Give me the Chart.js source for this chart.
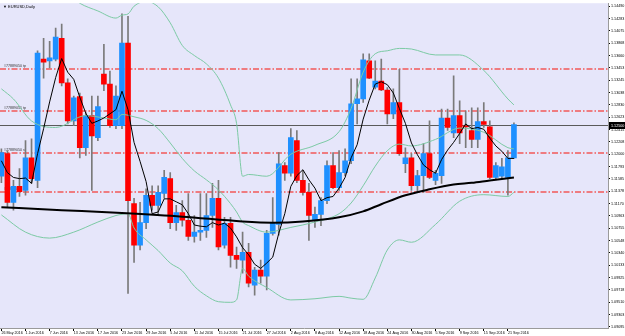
<!DOCTYPE html>
<html lang="en">
<head>
<meta charset="UTF-8">
<title>EURUSD,Daily</title>
<script src="https://cdn.jsdelivr.net/npm/chart.js"></script>
<style>
  html, body { margin: 0; padding: 0; background: #ffffff; }
  #wrap { width: 625px; height: 336px; }
</style>
</head>
<body>
<div id="wrap"><canvas id="chart" width="625" height="336"></canvas></div>
<script>
// daily bars, 26 May 2016 .. 22 Sep 2016
const opens = [1.1163,1.1201,1.1119,1.1146,1.1139,1.1194,1.1156,1.1360,1.1357,1.1360,
  1.1395,1.1320,1.1256,1.1297,1.1211,1.1265,1.1228,1.1335,1.1318,1.1248,
  1.1248,1.1387,1.1117,1.1047,1.1085,1.1131,1.1114,1.1134,1.1159,1.1085,
  1.1102,1.1089,1.1062,1.1069,1.1072,1.1097,1.1126,1.1047,1.1084,1.1030,
  1.1022,1.1035,1.0980,1.1005,1.0995,1.1067,1.1082,1.1181,1.1168,1.1223,
  1.1156,1.1136,1.1090,1.1099,1.1122,1.1181,1.1144,1.1169,1.1189,1.1285,
  1.1293,1.1357,1.1313,1.1323,1.1308,1.1268,1.1287,1.1184,1.1194,1.1147,
  1.1164,1.1201,1.1156,1.1164,1.1261,1.1236,1.1265,1.1248,1.1240,1.1225,
  1.1255,1.1246,1.1161,1.1163,1.1161,1.1194];
const highs = [1.1209,1.1206,1.1156,1.1176,1.1223,1.1226,1.1374,1.1395,1.1390,1.1412,
  1.1419,1.1327,1.1298,1.1303,1.1270,1.1298,1.1298,1.1385,1.1340,1.1315,
  1.1436,1.1432,1.1126,1.1119,1.1142,1.1147,1.1147,1.1173,1.1169,1.1114,
  1.1122,1.1134,1.1097,1.1134,1.1134,1.1151,1.1156,1.1094,1.1094,1.1044,
  1.1069,1.1050,1.1010,1.1022,1.1072,1.1127,1.1203,1.1186,1.1243,1.1240,
  1.1173,1.1151,1.1111,1.1127,1.1189,1.1203,1.1206,1.1209,1.1327,1.1327,
  1.1369,1.1369,1.1357,1.1360,1.1312,1.1310,1.1343,1.1211,1.1201,1.1173,
  1.1218,1.1256,1.1173,1.1276,1.1276,1.1332,1.1290,1.1273,1.1278,1.1278,
  1.1287,1.1256,1.1186,1.1193,1.1206,1.1253];
const lows = [1.1152,1.1111,1.1106,1.1129,1.1131,1.1151,1.1144,1.1328,1.1345,1.1357,
  1.1315,1.1251,1.1248,1.1194,1.1198,1.1139,1.1223,1.1307,1.1245,1.1243,
  1.1243,1.0966,1.1018,1.1039,1.1075,1.1106,1.1097,1.1126,1.1075,1.1072,
  1.1079,1.1055,1.1052,1.1055,1.1060,1.1077,1.1039,1.1042,1.1010,1.1008,
  1.1000,1.0977,1.0963,1.0983,1.0972,1.1064,1.1064,1.1156,1.1163,1.1152,
  1.1131,1.1055,1.1077,1.1080,1.1117,1.1142,1.1139,1.1164,1.1184,1.1251,
  1.1287,1.1327,1.1310,1.1307,1.1251,1.1260,1.1198,1.1169,1.1139,1.1136,
  1.1136,1.1159,1.1149,1.1151,1.1240,1.1228,1.1218,1.1211,1.1211,1.1211,
  1.1245,1.1159,1.1159,1.1159,1.1131,1.1193];
const closes = [1.1203,1.1119,1.1146,1.1137,1.1194,1.1159,1.1370,1.1355,1.1362,1.1397,
  1.1320,1.1256,1.1295,1.1211,1.1265,1.1231,1.1280,1.1318,1.1248,1.1298,
  1.1387,1.1122,1.1047,1.1085,1.1131,1.1114,1.1136,1.1161,1.1085,1.1102,
  1.1089,1.1062,1.1069,1.1072,1.1097,1.1126,1.1044,1.1084,1.1030,1.1023,
  1.1035,1.0983,1.1005,1.0995,1.1067,1.1085,1.1184,1.1168,1.1228,1.1156,
  1.1136,1.1097,1.1099,1.1122,1.1181,1.1144,1.1169,1.1189,1.1285,1.1293,
  1.1359,1.1328,1.1323,1.1308,1.1268,1.1287,1.1201,1.1194,1.1147,1.1164,
  1.1201,1.1161,1.1168,1.1261,1.1245,1.1265,1.1236,1.1246,1.1225,1.1255,
  1.1250,1.1161,1.1181,1.1179,1.1194,1.1250];

// fast moving average (thin black)
const maFast = [1.1189,1.1169,1.1161,1.1159,1.1160,1.1151,1.1201,1.1243,1.1288,1.1329,
  1.1361,1.1338,1.1326,1.1296,1.1269,1.1252,1.1256,1.1261,1.1268,1.1275,
  1.1306,1.1275,1.1220,1.1188,1.1154,1.1100,1.1103,1.1125,1.1125,1.1120,
  1.1115,1.1100,1.1081,1.1079,1.1078,1.1085,1.1081,1.1084,1.1076,1.1061,
  1.1043,1.1031,1.1015,1.1008,1.1017,1.1027,1.1067,1.1100,1.1146,1.1164,
  1.1174,1.1157,1.1143,1.1122,1.1127,1.1129,1.1143,1.1161,1.1194,1.1216,
  1.1259,1.1291,1.1318,1.1322,1.1317,1.1303,1.1277,1.1252,1.1219,1.1199,
  1.1182,1.1174,1.1168,1.1191,1.1207,1.1220,1.1235,1.1251,1.1243,1.1245,
  1.1242,1.1227,1.1214,1.1205,1.1193,1.1193];

// slow moving average (thick black), read at a few bars
const maSlowIdx = [0, 10, 20, 30, 40, 45, 50, 56, 60, 63, 67, 71, 75, 78, 81, 85];
const maSlowVal = [1.1111,1.1106,1.1101,1.1095,1.1087,1.1085,1.1087,1.1094,1.1104,1.1116,1.1131,1.1141,1.1149,1.1152,1.1156,1.1161];

// bollinger bands (green), read at a few bars
const bbUpIdx = [0, 6, 10, 12, 13, 16, 19, 20, 21, 22, 24, 26, 28, 30, 32, 34, 36, 38, 39, 40, 41, 44, 48, 52, 56, 58, 60, 62, 64, 66, 68, 72, 76, 80, 84, 85];
const bbUpVal = [1.1483,1.1499,1.1474,1.1462,1.1454,1.1441,1.1429,1.1434,1.1436,1.1449,1.1457,1.1448,1.1421,1.1383,1.1366,1.1352,1.1328,1.1283,1.1252,1.1163,1.1166,1.1163,1.1200,1.1215,1.1238,1.1277,1.1338,1.1369,1.1374,1.1378,1.1377,1.1367,1.1367,1.1341,1.1293,1.1283];
const bbMidIdx = [0, 2, 5, 9, 14, 17, 19, 20, 22, 24, 26, 28, 30, 32, 34, 36, 38, 39, 40, 41, 44, 48, 52, 56, 58, 60, 62, 64, 66, 68, 72, 76, 80, 84, 85];
const bbMidVal = [1.1310,1.1293,1.1256,1.1245,1.1265,1.1261,1.1258,1.1267,1.1263,1.1257,1.1243,1.1219,1.1193,1.1172,1.1157,1.1140,1.1117,1.1103,1.1086,1.1080,1.1069,1.1077,1.1086,1.1100,1.1118,1.1147,1.1180,1.1206,1.1217,1.1214,1.1225,1.1244,1.1237,1.1211,1.1209];
const bbLowIdx = [0, 4, 8, 12, 16, 19, 20, 21, 22, 24, 26, 28, 30, 32, 34, 36, 38, 39, 40, 41, 44, 48, 52, 56, 58, 60, 62, 64, 66, 68, 72, 76, 80, 84, 85];
const bbLowVal = [1.1098,1.1069,1.1059,1.1069,1.1086,1.1097,1.1099,1.1100,1.1076,1.1056,1.1038,1.1017,1.1004,1.0978,1.0962,1.0952,1.0951,1.0955,1.1008,1.0995,1.0976,1.0955,1.0957,1.0961,1.0958,1.0956,1.0992,1.1039,1.1056,1.1052,1.1082,1.1121,1.1132,1.1129,1.1136];

// order levels (red dash-dot)
const levels = [1.13435, 1.12731, 1.12027, 1.11357];
const levelNames = ['#77889050 tp', '#77889051 tp', '#77889050 sl', '#77889051 sl'];

// axis labels
const dateIdx = [0,4,8,12,16,20,24,28,32,36,40,44,48,52,56,60,64,68,72,76,80,84];
const dateLabels = ['26 May 2016','1 Jun 2016','7 Jun 2016','13 Jun 2016','17 Jun 2016','23 Jun 2016',
  '29 Jun 2016','5 Jul 2016','11 Jul 2016','15 Jul 2016','21 Jul 2016','27 Jul 2016','2 Aug 2016',
  '8 Aug 2016','12 Aug 2016','18 Aug 2016','24 Aug 2016','30 Aug 2016','5 Sep 2016','9 Sep 2016',
  '15 Sep 2016','21 Sep 2016'];
const priceTicks = [1.14490,1.14283,1.14075,1.13868,1.13660,1.13453,1.13245,1.13038,1.12830,
  1.12623,1.12415,1.12208,1.12000,1.11793,1.11585,1.11378,1.11170,1.10963,1.10755,1.10548,
  1.10340,1.10133,1.09925,1.09718,1.09510,1.09303,1.09095];

const bull = '#1e90ff';
const bear = '#ff0000';
const bandColor = '#7ccaa4';
const tinyFont = { family: 'Liberation Sans', size: 3.7 };

const bars = closes.map((c, i) => i);
const pts = (ix, vals) => ix.map((x, k) => ({ x: x, y: vals[k] }));

const overlay = {
  id: 'overlay',
  beforeDraw(c) {
    const { ctx, chartArea: a } = c;
    ctx.save();
    ctx.fillStyle = '#ffffff';
    ctx.fillRect(0, 0, c.width, c.height);
    ctx.fillStyle = '#e6e6fa';
    ctx.fillRect(a.left, a.top, a.right - a.left, a.bottom - a.top);
    ctx.restore();
  },
  beforeDatasetsDraw(c) {
    const { ctx, chartArea: a, scales: { y } } = c;
    ctx.save();
    ctx.beginPath();
    ctx.rect(a.left, a.top, a.right - a.left, a.bottom - a.top);
    ctx.clip();
    ctx.lineWidth = 1.4;
    ctx.strokeStyle = '#f25858';
    ctx.setLineDash([6, 2, 1.5, 2]);
    levels.forEach(p => {
      const py = Math.round(y.getPixelForValue(p));
      ctx.beginPath(); ctx.moveTo(a.left, py); ctx.lineTo(a.right, py); ctx.stroke();
    });
    ctx.setLineDash([]);
    ctx.lineWidth = 1;
    const cy = Math.round(y.getPixelForValue(closes[closes.length - 1])) + 0.5;
    ctx.strokeStyle = '#5a5a5a';
    ctx.beginPath(); ctx.moveTo(a.left, cy); ctx.lineTo(a.right, cy); ctx.stroke();
    ctx.font = '3.6px "Liberation Sans"';
    ctx.fillStyle = '#333333';
    ctx.textBaseline = 'bottom';
    levels.forEach((p, i) => {
      ctx.fillText(levelNames[i], a.left + 4, Math.round(y.getPixelForValue(p)) - 1);
    });
    ctx.restore();
  },
  afterDraw(c) {
    const { ctx, chartArea: a, scales: { y } } = c;
    ctx.save();
    ctx.font = '4px "Liberation Sans"';
    ctx.fillStyle = '#000000';
    ctx.textBaseline = 'middle';
    ctx.fillText('\u25BC EURUSD,Daily', a.left + 3, a.top + 4);
    const last = closes[closes.length - 1];
    const cy = Math.round(y.getPixelForValue(last));
    ctx.fillStyle = '#000000';
    ctx.fillRect(a.right + 1, cy - 3, 16, 7);
    ctx.fillStyle = '#ffffff';
    ctx.font = '3.7px "Liberation Sans"';
    ctx.fillText(last.toFixed(5), a.right + 3, cy + 0.5);
    ctx.restore();
  }
};

new Chart(document.getElementById('chart'), {
  type: 'bar',
  data: {
    datasets: [
      { type: 'line', data: maFast.map((v, i) => ({ x: i, y: v })), borderColor: '#000000', borderWidth: 1, pointRadius: 0, tension: 0, order: 0 },
      { type: 'line', data: pts(maSlowIdx, maSlowVal), borderColor: '#000000', borderWidth: 2, pointRadius: 0, cubicInterpolationMode: 'monotone', order: 0 },
      { type: 'line', data: pts(bbUpIdx, bbUpVal), borderColor: bandColor, borderWidth: 1, pointRadius: 0, cubicInterpolationMode: 'monotone', order: 1 },
      { type: 'line', data: pts(bbMidIdx, bbMidVal), borderColor: bandColor, borderWidth: 1, pointRadius: 0, cubicInterpolationMode: 'monotone', order: 1 },
      { type: 'line', data: pts(bbLowIdx, bbLowVal), borderColor: bandColor, borderWidth: 1, pointRadius: 0, cubicInterpolationMode: 'monotone', order: 1 },
      { type: 'bar', data: bars.map(i => ({ x: i, y: [opens[i], closes[i]] })),
        backgroundColor: bars.map(i => closes[i] >= opens[i] ? bull : bear),
        barThickness: 5, minBarLength: 1, grouped: false, order: 2 },
      { type: 'bar', data: bars.map(i => ({ x: i, y: [lows[i], highs[i]] })),
        backgroundColor: '#7a7a7a', barThickness: 1, grouped: false, order: 3 }
    ]
  },
  options: {
    responsive: false,
    animation: false,
    devicePixelRatio: 1,
    layout: { padding: { top: 2, left: 0, right: 0, bottom: 0 } },
    plugins: { legend: { display: false }, tooltip: { enabled: false } },
    scales: {
      x: {
        type: 'linear', min: -0.23, max: 100.6, offset: false,
        afterBuildTicks: s => { s.ticks = dateIdx.map(v => ({ value: v })); },
        afterFit: s => { s.height = 8; },
        grid: { drawOnChartArea: false, drawTicks: true, tickLength: 3, color: '#000000', offset: false },
        border: { display: true, color: '#9a9a9a' },
        ticks: { autoSkip: false, maxRotation: 0, align: 'start', padding: 0, font: tinyFont, color: '#000000',
          callback: v => dateLabels[dateIdx.indexOf(v)] }
      },
      y: {
        position: 'right', min: 1.09078, max: 1.14540,
        afterBuildTicks: s => { s.ticks = priceTicks.map(v => ({ value: v })); },
        afterFit: s => { s.width = 17; },
        grid: { drawOnChartArea: false, drawTicks: true, tickLength: 2, color: '#000000' },
        border: { display: true, color: '#9a9a9a' },
        ticks: { padding: 1, font: tinyFont, color: '#000000', callback: v => v.toFixed(5) }
      }
    }
  },
  plugins: [overlay]
});
</script>
</body>
</html>
